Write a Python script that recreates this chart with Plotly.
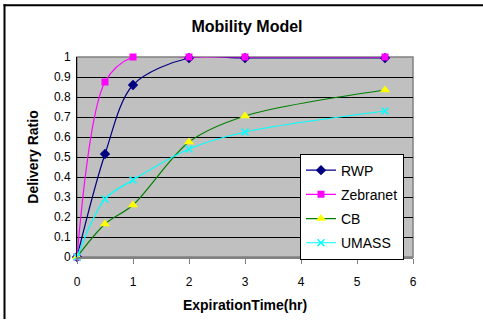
import plotly.graph_objects as go

# Expiration time (hours) and delivery ratio per mobility model
expiration_hr = [0, 0.5, 1, 2, 3, 5.5]
rwp = [0, 0.515, 0.86, 0.995, 0.995, 0.995]
zebranet = [0, 0.875, 1.0, 1.0, 1.0, 1.0]
cb = [0, 0.165, 0.26, 0.575, 0.705, 0.835]
umass = [0, 0.29, 0.385, 0.54, 0.625, 0.73]

x_ticks = [0, 1, 2, 3, 4, 5, 6]
y_ticks = [0, 0.1, 0.2, 0.3, 0.4, 0.5, 0.6, 0.7, 0.8, 0.9, 1]

FONT = "Liberation Sans, Arial, sans-serif"

series = [
    ("RWP", rwp, "#000080", dict(symbol="diamond", size=8, color="#000080")),
    ("Zebranet", zebranet, "#FF00FF", dict(symbol="square", size=7, color="#FF00FF")),
    ("CB", cb, "#008000", dict(symbol="triangle-up", size=9, color="#FFFF00")),
    ("UMASS", umass, "#00FFFF",
     dict(symbol="x-thin-open", size=7, color="#00FFFF", line=dict(width=1.5, color="#00FFFF"))),
]

fig = go.Figure()
for name, vals, lc, mk in series:
    fig.add_trace(go.Scatter(
        x=expiration_hr, y=vals, name=name, legendgroup=name,
        mode="lines+markers",
        line=dict(color=lc, width=1.2, shape="spline", smoothing=0.9),
        marker=mk, cliponaxis=False,
    ))

W, H = 483, 323
ML, MR, MT, MB = 77, 70, 57, 63
pw, ph = W - ML - MR, H - MT - MB

def px_x(p):
    return (p - ML) / pw

def px_y(p):
    return (H - MB - p) / ph

fig.update_layout(
    width=W, height=H,
    margin=dict(l=ML, r=MR, t=MT, b=MB),
    paper_bgcolor="white", plot_bgcolor="#C0C0C0",
    font=dict(family=FONT, size=12, color="black"),
    title=dict(text="<b>Mobility Model</b>", font=dict(size=16, family=FONT),
               x=px_x(247), xref="paper", xanchor="center",
               y=1 - 26 / H, yanchor="middle"),
    xaxis=dict(
        range=[0, 6], tickvals=x_ticks, ticks="outside", ticklen=5,
        tickcolor="#808080", showgrid=False, zeroline=False,
        showline=True, linecolor="#808080", linewidth=1.5,
        ticklabelstandoff=8, tickfont=dict(size=12),
        title=dict(text="<b>ExpirationTime(hr)</b>", font=dict(size=14), standoff=12),
    ),
    yaxis=dict(
        range=[0, 1], tickvals=y_ticks, ticktext=[f"{v:g}" for v in y_ticks],
        ticks="", showgrid=True, gridcolor="black", gridwidth=1,
        zeroline=False, showline=True, linecolor="black", linewidth=1,
        tickfont=dict(size=12), ticklabelstandoff=3,
        title=dict(text="<b>Delivery Ratio</b>", font=dict(size=14), standoff=12),
    ),
    legend=dict(
        x=px_x(300), y=px_y(155), xanchor="left", yanchor="top",
        bgcolor="white", bordercolor="black", borderwidth=1,
        font=dict(size=14), tracegroupgap=3,
    ),
    shapes=[
        # plot-area frame
        dict(type="rect", xref="paper", yref="paper", x0=0, x1=1, y0=0, y1=1,
             line=dict(color="#808080", width=1.5), layer="below"),
        # chart-area frame: top and left edges as thin filled bars
        dict(type="rect", xref="paper", yref="paper",
             x0=px_x(3.5), x1=px_x(W), y0=px_y(5.5), y1=px_y(3.5),
             fillcolor="black", line=dict(width=0)),
        dict(type="rect", xref="paper", yref="paper",
             x0=px_x(3.5), x1=px_x(5.5), y0=px_y(H), y1=px_y(3.5),
             fillcolor="black", line=dict(width=0)),
    ],
)

fig.write_html("out.html")
